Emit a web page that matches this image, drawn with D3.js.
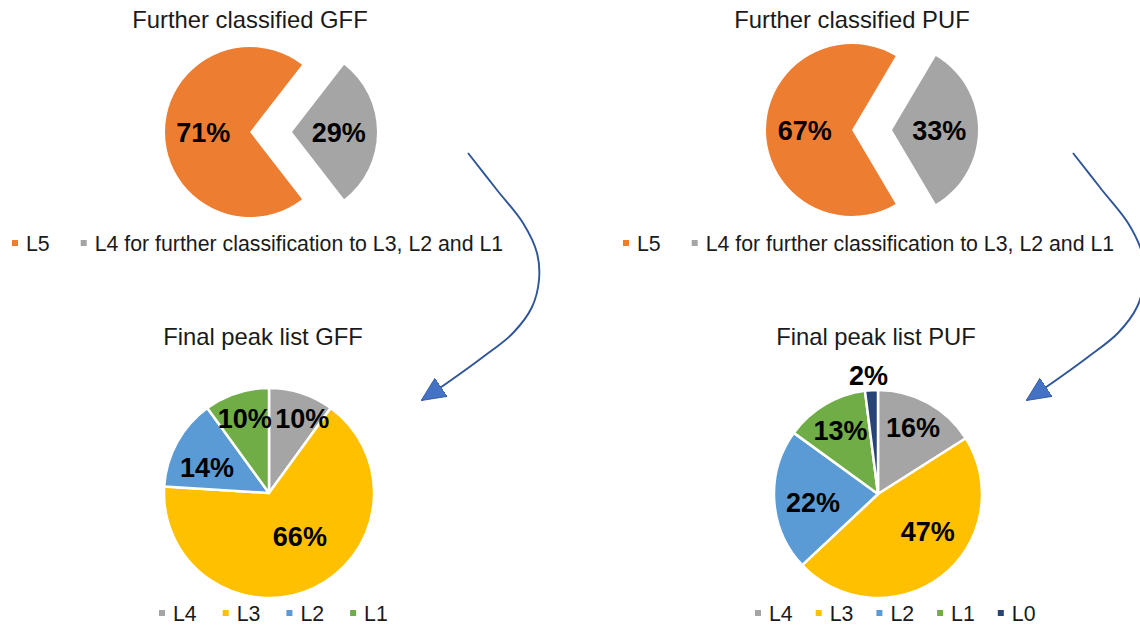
<!DOCTYPE html>
<html>
<head>
<meta charset="utf-8">
<script src="https://cdn.jsdelivr.net/npm/d3@7"></script>
<style>
  html, body { margin: 0; padding: 0; background: #fff; }
  svg { display: block; font-family: "Liberation Sans", Arial, sans-serif; }
</style>
</head>
<body>
<svg id="chart" width="1140" height="626"></svg>
<script>
// ---- data ----
var topLabels = ["L5", "L4 for further classification to L3, L2 and L1"];
var gffTopValues = [71, 29];
var pufTopValues = [67, 33];
var topColors = ["#ED7D31", "#A5A5A5"];

var finalLabels = ["L4", "L3", "L2", "L1", "L0"];
var gffFinalValues = [10, 66, 14, 10];
var pufFinalValues = [16, 47, 22, 13, 2];
var finalColors = ["#A5A5A5", "#FFC000", "#5B9BD5", "#70AD47", "#264478"];

// ---- layout ----
var charts = [
	{ title: "Further classified GFF", values: gffTopValues, labels: topLabels, colors: topColors,
	  cx: 271, cy: 132, r: 85, explode: 21, titleX: 250, titleY: 28,
	  legendX: 12, legendY: 243, legendGap: 31, top: true },
	{ title: "Further classified PUF", values: pufTopValues, labels: topLabels, colors: topColors,
	  cx: 872, cy: 130, r: 86, explode: 20, titleX: 852, titleY: 28,
	  legendX: 623, legendY: 243, legendGap: 31, top: true },
	{ title: "Final peak list GFF", values: gffFinalValues, labels: finalLabels, colors: finalColors,
	  cx: 269, cy: 493, r: 105, explode: 0, titleX: 263, titleY: 345,
	  legendX: 159, legendY: 613, legendGap: 26,
	  labelPos: [[0.78, 6], [0.51, -10], [0.64, -6], [0.75, 0]] },
	{ title: "Final peak list PUF", values: pufFinalValues, labels: finalLabels, colors: finalColors,
	  cx: 878, cy: 494, r: 104, explode: 0, titleX: 876, titleY: 345,
	  legendX: 755, legendY: 613, legendGap: 23,
	  labelPos: [[0.72, -1], [0.6, -15], [0.63, -4], [0.71, 0], [1.15, -1]] }
];

var svg = d3.select("#chart");

function polar(cx, cy, d, a) {
	return [cx + d * Math.sin(a), cy - d * Math.cos(a)];
}

charts.forEach(function(c) {
	var g = svg.append("g");

	// title
	g.append("text")
		.attr("x", c.titleX)
		.attr("y", c.titleY)
		.attr("text-anchor", "middle")
		.style("font-size", "23.8px")
		.style("fill", "#1a1a1a")
		.text(c.title);

	var total = d3.sum(c.values);
	var start = 0;
	if (c.top) {
		// second slice centred on the right-hand side
		start = Math.PI / 2 + Math.PI * c.values[1] / total;
	}
	var pie = d3.pie().sort(null).startAngle(start).endAngle(start + 2 * Math.PI);
	var arcs = pie(c.values);
	var arc = d3.arc().innerRadius(0).outerRadius(c.r);

	var slices = g.selectAll("g.slice")
		.data(arcs)
		.enter().append("g")
		.attr("class", "slice")
		.attr("transform", function(d) {
			var mid = (d.startAngle + d.endAngle) / 2;
			var p = polar(c.cx, c.cy, c.explode, mid);
			return "translate(" + p[0] + "," + p[1] + ")";
		});

	slices.append("path")
		.attr("d", arc)
		.attr("fill", function(d, i) { return c.colors[i]; })
		.attr("stroke", "#fff")
		.attr("stroke-width", c.top ? 0 : 2.5)
		.attr("stroke-linejoin", "round");

	// percentage labels
	g.selectAll("text.pct")
		.data(arcs)
		.enter().append("text")
		.attr("class", "pct")
		.attr("transform", function(d, i) {
			var mid = (d.startAngle + d.endAngle) / 2;
			var base = polar(c.cx, c.cy, c.explode, mid);
			var p;
			if (c.top) {
				p = polar(base[0], base[1], 0.55 * c.r, mid);
			} else {
				var lp = c.labelPos[i];
				p = polar(c.cx, c.cy, lp[0] * c.r, mid + lp[1] * Math.PI / 180);
			}
			return "translate(" + p[0] + "," + p[1] + ")";
		})
		.attr("text-anchor", "middle")
		.attr("dy", "0.36em")
		.style("font-size", "27px")
		.style("font-weight", "bold")
		.style("fill", "#000")
		.text(function(d) { return d.data + "%"; });

	// legend
	var lg = g.append("g").attr("transform", "translate(" + c.legendX + "," + c.legendY + ")");
	var x = 0;
	c.labels.slice(0, c.values.length).forEach(function(lab, i) {
		lg.append("rect")
			.attr("x", x)
			.attr("y", -3)
			.attr("width", 6)
			.attr("height", 6)
			.attr("fill", c.colors[i]);
		var t = lg.append("text")
			.attr("x", x + 14)
			.attr("y", 0)
			.attr("dy", "0.36em")
			.style("font-size", "21.3px")
			.style("fill", "#1a1a1a")
			.text(lab);
		x += 14 + t.node().getComputedTextLength() + c.legendGap;
	});
});

// ---- curved arrows from the top pies to the final pies ----
var defs = svg.append("defs");
defs.append("marker")
	.attr("id", "head")
	.attr("markerUnits", "userSpaceOnUse")
	.attr("viewBox", "0 0 24 22")
	.attr("markerWidth", 24)
	.attr("markerHeight", 22)
	.attr("refX", 23)
	.attr("refY", 11)
	.attr("orient", "auto")
	.append("path")
	.attr("d", "M0,0 L24,11 L0,22 Z")
	.attr("fill", "#4472C4")
	.attr("stroke", "#2F5597")
	.attr("stroke-width", 0.8);

var arrowShape = [[468, 153], [497, 190], [523, 223], [537, 253], [539, 280], [532, 307],
	[513, 333], [483, 357], [447, 383], [422, 400]];
var arrowShifts = [0, 605];

var line = d3.line().curve(d3.curveCatmullRom.alpha(0.5));

arrowShifts.forEach(function(s) {
	svg.append("path")
		.attr("d", line(arrowShape.map(function(p) { return [p[0] + s, p[1]]; })))
		.attr("fill", "none")
		.attr("stroke", "#2F5597")
		.attr("stroke-width", 1.9)
		.attr("marker-end", "url(#head)");
});
</script>
</body>
</html>
